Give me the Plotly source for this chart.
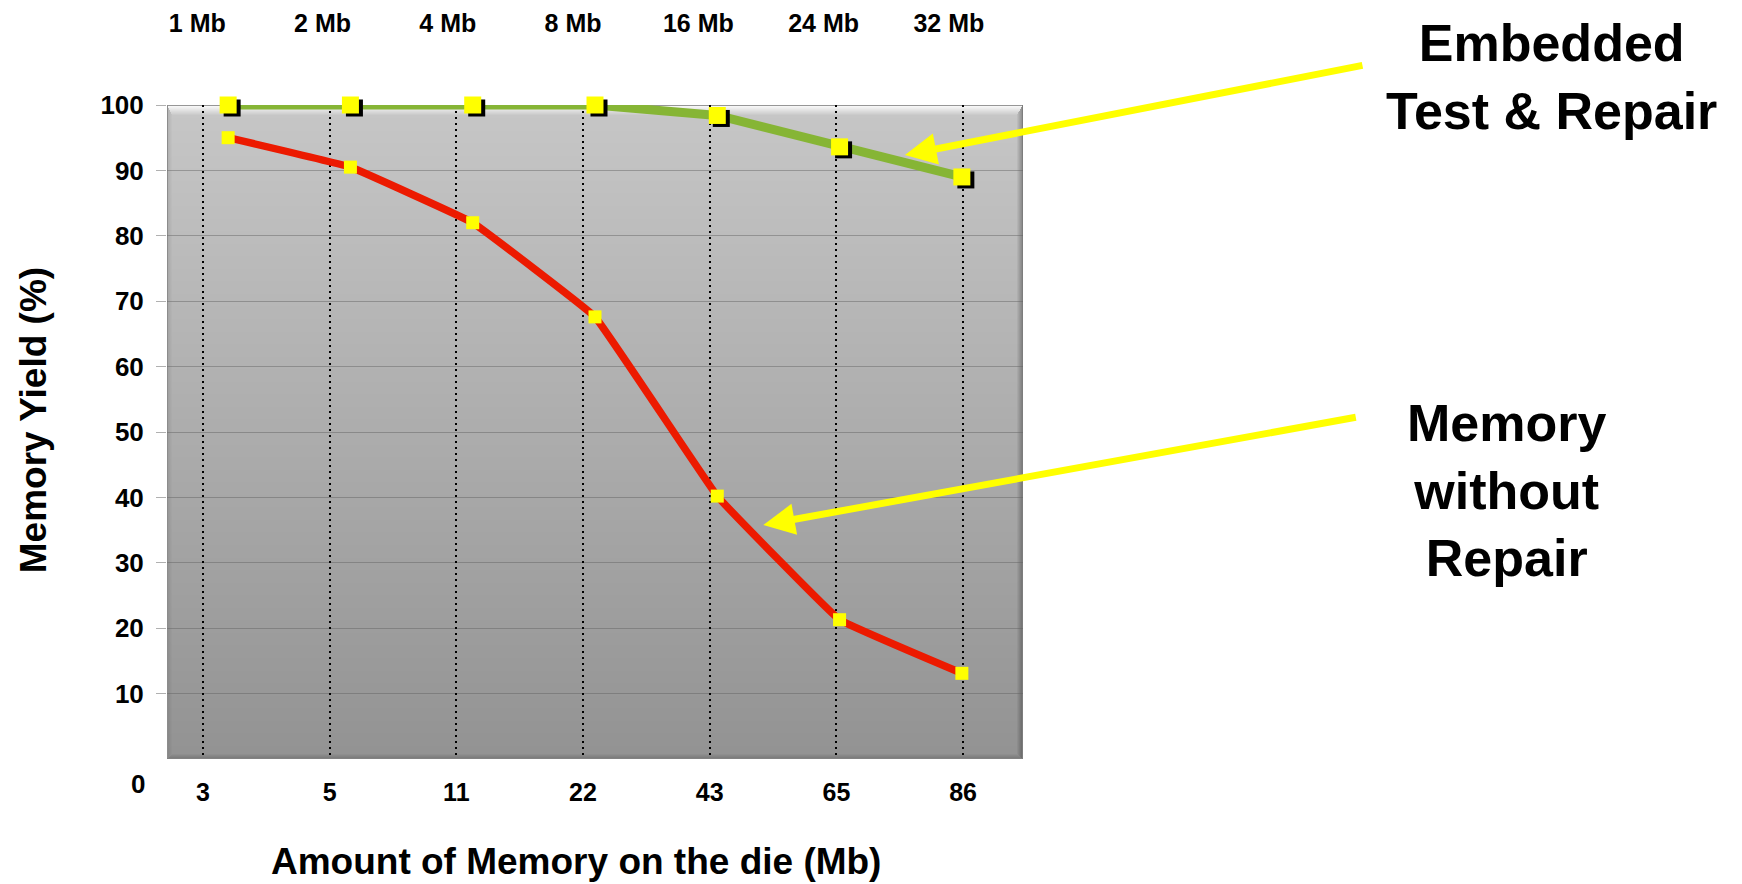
import base64
import struct
import zlib

import numpy as np
import plotly.graph_objects as go

# ---- data -------------------------------------------------------------
memory_mb = ["3", "5", "11", "22", "43", "65", "86"]            # bottom axis
node_sizes = ["1 Mb", "2 Mb", "4 Mb", "8 Mb", "16 Mb", "24 Mb", "32 Mb"]  # top axis
yield_with_repair = [100.0, 100.0, 100.0, 100.0, 98.4, 93.6, 89.0]
yield_without_repair = [95.0, 90.5, 82.0, 67.6, 40.2, 21.3, 13.1]
yield_ticks = [10, 20, 30, 40, 50, 60, 70, 80, 90, 100]

# ---- styling ----------------------------------------------------------
FONT = "Liberation Sans, Arial, sans-serif"
GREEN = "#86B535"
RED = "#EC1A00"
YELLOW = "#FFFF00"

FIG_W, FIG_H = 1742, 884
M_L, M_R, M_T, M_B = 167, 719, 105, 125
PLOT_W = FIG_W - M_L - M_R
PLOT_H = FIG_H - M_T - M_B


def bevel_panel(w, h):
    """Grey vertical gradient panel with a bevelled frame, as a PNG data URI."""
    yy = np.arange(h, dtype=float)[:, None]
    xx = np.arange(w, dtype=float)[None, :]
    base = np.repeat(199.0 + (147.0 - 199.0) * yy / (h - 1), w, axis=1)
    dist = np.stack(np.broadcast_arrays(yy / 10.0, xx / 5.0,
                                        (w - 1 - xx) / 6.0, (h - 1 - yy) / 5.0))
    edge = dist.argmin(0)
    k = np.clip(1.0 - dist.min(0), 0.0, 1.0)
    img = base.copy()
    m = edge == 0
    img[m] = base[m] + (252.0 - base[m]) * k[m]
    m = edge == 1
    img[m] = base[m] * (1.0 - 0.10 * k[m])
    m = edge == 2
    img[m] = base[m] * (1.0 - 0.30 * k[m])
    m = edge == 3
    img[m] = base[m] * (1.0 - 0.18 * k[m])
    img[0, :] = 150
    img[:, 0] = 140
    img[-1, :] = 130
    img[:, -1] = 125
    rgb = np.repeat(np.clip(img, 0, 255).astype(np.uint8)[:, :, None], 3, axis=2)
    raw = b"".join(b"\x00" + rgb[r].tobytes() for r in range(h))

    def chunk(tag, data):
        body = tag + data
        return struct.pack(">I", len(data)) + body + struct.pack(">I", zlib.crc32(body) & 0xFFFFFFFF)

    png = (b"\x89PNG\r\n\x1a\n"
           + chunk(b"IHDR", struct.pack(">IIBBBBB", w, h, 8, 2, 0, 0, 0))
           + chunk(b"IDAT", zlib.compress(raw, 9))
           + chunk(b"IEND", b""))
    return "data:image/png;base64," + base64.b64encode(png).decode()


idx = list(range(len(memory_mb)))

fig = go.Figure()

# invisible carriers so the top/bottom category axes get drawn
for ax in ("x2", "x3"):
    fig.add_trace(go.Scatter(x=idx, y=yield_with_repair, mode="markers",
                             marker=dict(opacity=0), xaxis=ax, yaxis="y",
                             hoverinfo="skip"))

# lines
fig.add_trace(go.Scatter(x=idx, y=yield_with_repair, mode="lines",
                         line=dict(color=GREEN, width=9),
                         xaxis="x", yaxis="y", cliponaxis=False))
fig.add_trace(go.Scatter(x=idx, y=yield_without_repair, mode="lines+markers",
                         line=dict(color=RED, width=7.5, shape="spline", smoothing=0.2),
                         marker=dict(symbol="square", size=13, color=YELLOW),
                         xaxis="x", yaxis="y", cliponaxis=False))
# drop shadow of the repaired-yield markers (slightly shifted axes)
fig.add_trace(go.Scatter(x=idx, y=yield_with_repair, mode="markers",
                         marker=dict(symbol="square", size=17, color="black"),
                         xaxis="x4", yaxis="y2", cliponaxis=False))
fig.add_trace(go.Scatter(x=idx, y=yield_with_repair, mode="markers",
                         marker=dict(symbol="square", size=17, color=YELLOW),
                         xaxis="x5", yaxis="y", cliponaxis=False))

shadow_dx = 4.0 / (PLOT_W / 7.0)
shadow_dy = 3.0 / (PLOT_H / 100.0)

tick_font = dict(family=FONT, size=25, color="black", weight="bold")
hidden = dict(visible=False, fixedrange=True, automargin=False)

fig.update_layout(
    width=FIG_W, height=FIG_H,
    margin=dict(l=M_L, r=M_R, t=M_T, b=M_B, pad=0, autoexpand=False),
    paper_bgcolor="white", plot_bgcolor="rgba(0,0,0,0)",
    showlegend=False, hovermode=False,
    xaxis=dict(range=[-0.5, 6.5], **hidden),
    yaxis=dict(range=[0, 100], tickvals=yield_ticks, ticks="outside", ticklen=10,
               tickcolor="#b0b0b0", tickwidth=1, showgrid=True,
               gridcolor="rgba(95,95,95,0.45)", gridwidth=1.2, zeroline=False,
               showline=False, tickfont=dict(family=FONT, size=26, color="black", weight="bold"),
               ticklabelstandoff=7, fixedrange=True, automargin=False),
    xaxis2=dict(overlaying="x", anchor="y", side="bottom", range=[-0.284, 6.473],
                tickmode="array", tickvals=idx, ticktext=memory_mb, ticks="",
                showgrid=True, gridcolor="black", gridwidth=2.2, griddash="2px,4px",
                zeroline=False, showline=False, tickfont=tick_font,
                ticklabelstandoff=16, fixedrange=True, automargin=False),
    xaxis3=dict(overlaying="x", anchor="y", side="top", range=[-0.242, 6.592],
                tickmode="array", tickvals=idx, ticktext=node_sizes, ticks="",
                showgrid=False, zeroline=False, showline=False,
                tickfont=dict(family=FONT, size=25, color="black", weight="bold"),
                ticklabelstandoff=67, fixedrange=True, automargin=False),
    xaxis4=dict(overlaying="x", anchor="y2", range=[-0.5 - shadow_dx, 6.5 - shadow_dx], **hidden),
    yaxis2=dict(overlaying="y", anchor="x4", range=[shadow_dy, 100 + shadow_dy], **hidden),
    xaxis5=dict(overlaying="x", anchor="y", range=[-0.5, 6.5], **hidden),
    images=[dict(source=bevel_panel(PLOT_W, PLOT_H), xref="paper", yref="paper",
                 x=0, y=1, sizex=1, sizey=1, xanchor="left", yanchor="top",
                 sizing="stretch", layer="below")],
)

# floor of the chart: "0" label and its small tick marks below the panel
floor_shift = -23
shapes = [dict(type="line", xref="paper", yref="y", ysizemode="pixel", yanchor=0,
               x0=-10.0 / PLOT_W, x1=0, y0=floor_shift, y1=floor_shift,
               line=dict(color="#b0b0b0", width=1))]
for k in range(len(memory_mb) + 1):
    shapes.append(dict(type="line", xref="x", yref="y", ysizemode="pixel", yanchor=0,
                       x0=k - 0.5, x1=k - 0.5, y0=floor_shift, y1=floor_shift - 5,
                       line=dict(color="#c8c8c8", width=1)))
fig.update_layout(shapes=shapes)

annotations = [
    dict(text="0", xref="paper", yref="y", x=-20.0 / PLOT_W, y=0, yshift=-25,
         xanchor="right", yanchor="middle", showarrow=False,
         font=dict(family=FONT, size=26, color="black", weight="bold")),
    dict(text="Memory Yield (%)", xref="paper", yref="paper", x=-134.0 / PLOT_W, y=0.518,
         textangle=-90, xanchor="center", yanchor="middle", showarrow=False,
         font=dict(family=FONT, size=37, color="black", weight="bold")),
    dict(text="Amount of Memory on the die (Mb)", xref="paper", yref="paper",
         x=0.478, y=-103.0 / PLOT_H, xanchor="center", yanchor="middle", showarrow=False,
         font=dict(family=FONT, size=37, color="black", weight="bold")),
    dict(text="Embedded<br>Test &amp; Repair", xref="paper", yref="paper",
         x=1.6176, y=1.0435, xanchor="center", yanchor="middle", align="center",
         showarrow=False, font=dict(family=FONT, size=52, color="black", weight="bold")),
    dict(text="Memory<br>without<br>Repair", xref="paper", yref="paper",
         x=1.5654, y=0.4098, xanchor="center", yanchor="middle", align="center",
         showarrow=False, font=dict(family=FONT, size=52, color="black", weight="bold")),
    # callout arrows
    dict(text="", xref="paper", yref="paper", x=0.8621, y=0.9235, ax=459, ay=-90,
         showarrow=True, arrowhead=2, arrowsize=0.9, arrowwidth=7, arrowcolor=YELLOW,
         standoff=0, startstandoff=0),
    dict(text="", xref="paper", yref="paper", x=0.6966, y=0.3578, ax=594, ay=-108,
         showarrow=True, arrowhead=2, arrowsize=0.9, arrowwidth=7, arrowcolor=YELLOW,
         standoff=0, startstandoff=0),
]
fig.update_layout(annotations=annotations)

fig.write_html("out.html")
